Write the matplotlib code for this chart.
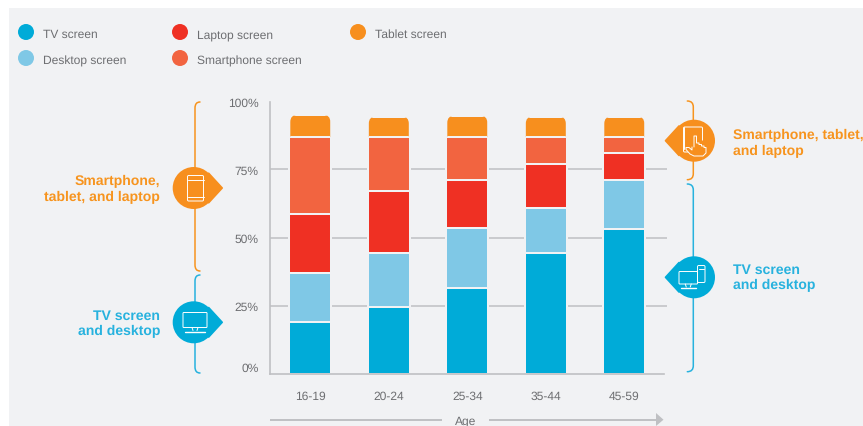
import numpy as np
import matplotlib
matplotlib.use("Agg")
import matplotlib.pyplot as plt
from matplotlib.patches import Circle, Polygon, PathPatch, FancyBboxPatch, Rectangle
from matplotlib.path import Path
from matplotlib.transforms import IdentityTransform

plt.rcParams['font.family'] = ['Liberation Sans', 'DejaVu Sans']
plt.rcParams['text.hinting'] = 'no_hinting'
plt.rcParams['text.hinting_factor'] = 1

age_groups = ['16-19', '20-24', '25-34', '35-44', '45-59']
tv_screen = [19.0, 24.3, 31.3, 44.3, 53.0]
desktop_screen = [17.8, 20.0, 22.2, 16.7, 18.1]
laptop_screen = [21.8, 22.7, 17.6, 15.9, 9.9]
smartphone_screen = [28.2, 19.8, 15.7, 9.9, 5.8]
tablet_screen = [8.2, 7.6, 7.9, 7.6, 7.6]
series_names = ['TV screen', 'Desktop screen', 'Laptop screen', 'Smartphone screen', 'Tablet screen']
y_ticks = [0, 25, 50, 75, 100]
y_tick_labels = ['0%', '25%', '50%', '75%', '100%']

C_TV = '#00abd8'
C_DESK = '#7fc8e6'
C_LAP = '#ef3023'
C_SMART = '#f26440'
C_TAB = '#f78f1e'
BG = '#f1f2f4'
GREY = '#bfc0c3'
TXT = '#6d6e71'
T_OR = '#f7941e'
T_BL = '#27b2de'

W, H = 863, 427
fig = plt.figure(figsize=(W / 100, H / 100), dpi=100, facecolor='white')

# Overlay in pixel coordinates for the panel and the annotations
ov = fig.add_axes([0, 0, 1, 1], zorder=1)
ov.set_xlim(0, W)
ov.set_ylim(H, 0)
ov.axis('off')
ov.add_patch(Rectangle((9, 9), W - 9, H - 9, fc=BG, ec='none'))

# Main chart
x_l, x_r, y_b, y_t = 269.5, 666.7, 374.5, 102.5
ax = fig.add_axes([x_l / W, 1 - y_b / H, (x_r - x_l) / W, (y_b - y_t) / H], zorder=2)
ax.patch.set_alpha(0)
sp = 78.5
ax.set_xlim((x_l - 310.3) / sp, (x_r - 310.3) / sp)
ax.set_ylim(0, 100)
ax.set_xticks(range(len(age_groups)), age_groups)
ax.set_yticks(y_ticks, y_tick_labels)
ax.tick_params(axis='both', length=0, labelsize=8.8, labelcolor=TXT)
ax.tick_params(axis='x', pad=12)
ax.tick_params(axis='y', pad=8)
ax.yaxis.get_ticklabels()[0].set_va('bottom')
ax.grid(axis='y', color=GREY, lw=1.1, zorder=0)
gl = ax.yaxis.get_gridlines()
gl[0].set_visible(False)
gl[-1].set_visible(False)
ax.set_axisbelow(True)
for s in ('top', 'right'):
    ax.spines[s].set_visible(False)
for s in ('left', 'bottom'):
    ax.spines[s].set_color(GREY)
    ax.spines[s].set_linewidth(1.2)
    ax.spines[s].set_zorder(6)
ax.spines['bottom'].set_bounds((x_l - 310.3) / sp, (664 - 310.3) / sp)

xs = np.arange(len(age_groups))
bottom = np.zeros(len(xs))
bw = 42 / sp
bars_tab = None
for vals, col in zip([tv_screen, desktop_screen, laptop_screen, smartphone_screen, tablet_screen],
                     [C_TV, C_DESK, C_LAP, C_SMART, C_TAB]):
    bars = ax.bar(xs, vals, bottom=bottom, width=bw, color=col, edgecolor=BG, linewidth=1.45, zorder=3)
    bottom = bottom + np.array(vals)
    bars_tab = bars
# Rounded tops on the tablet segment
fig.canvas.draw()
for b in bars_tab:
    (x0, y0), (x1, y1) = ax.transData.transform([(b.get_x(), b.get_y()), (b.get_x() + b.get_width(), b.get_y() + b.get_height())])
    clip = FancyBboxPatch((x0 + 1, y0 - 12), x1 - x0 - 2, y1 - y0 + 12 + 0.2,
                          boxstyle='round,pad=0,rounding_size=7', transform=IdentityTransform())
    b.set_clip_path(clip)

ax.set_xlabel('Age', fontsize=8.8, color=TXT)
ax.xaxis.set_label_coords((466 - x_l) / (x_r - x_l), -(421.5 - y_b) / (y_b - y_t), transform=ax.transAxes)
ax.xaxis.label.set_va('center')

# Age arrow
ov.plot([269.5, 441.5], [420.7, 420.7], color=GREY, lw=1.4, solid_capstyle='butt')
ov.plot([489, 658], [420.7, 420.7], color=GREY, lw=1.4, solid_capstyle='butt')
ov.add_patch(Polygon([(656, 414), (663.5, 420.7), (656, 427)], fc=GREY, ec='none'))

# Legend
for (cx, cy), col, name in zip([(26, 33), (26, 59), (180, 33), (180, 59), (358, 33)],
                               [C_TV, C_DESK, C_LAP, C_SMART, C_TAB], series_names):
    ov.add_patch(Circle((cx, cy), 8, fc=col, ec='none'))
    ov.text(cx + 17.2, cy + 2, name, fontsize=8.7, color=TXT, va='center', ha='left')


def bracket(x, y0, y1, d, col):
    verts = [(x + d, y0), (x, y0), (x, y0 + 6), (x, y1 - 6), (x, y1), (x + d, y1)]
    codes = [Path.MOVETO, Path.CURVE3, Path.CURVE3, Path.LINETO, Path.CURVE3, Path.CURVE3]
    ov.add_patch(PathPatch(Path(verts, codes), fc='none', ec=col, lw=1.1, capstyle='round'))


def teardrop(cx, cy, r, tip_dir, col):
    d = 29.5
    th = np.arccos(r / d)
    base = 0 if tip_dir > 0 else np.pi
    p1 = (cx + r * np.cos(base + th), cy + r * np.sin(base + th))
    p2 = (cx + r * np.cos(base - th), cy + r * np.sin(base - th))
    tip = (cx + tip_dir * (d - 1), cy)
    ov.add_patch(Polygon([p1, tip, p2], fc=col, ec=col, lw=1.2, joinstyle='round', zorder=3))
    ov.add_patch(Circle((cx, cy), r, fc=col, ec='none', zorder=3))


def rrect(x, y, w, h, r=1.2, fc='none', lw=0.7):
    ov.add_patch(FancyBboxPatch((x, y), w, h, boxstyle=f'round,pad=0,rounding_size={r}',
                                fc=fc, ec='white', lw=lw, zorder=4))


def wl(xs_, ys_, lw=0.7):
    ov.plot(xs_, ys_, color='white', lw=lw, zorder=5, solid_capstyle='round', solid_joinstyle='round')


def monitor(x, y, w, h):
    rrect(x, y, w, h, r=0.8)
    wl([x + w / 2 - 3, x + w / 2 - 2], [y + h, y + h + 3])
    wl([x + w / 2 + 3, x + w / 2 + 2], [y + h, y + h + 3])
    wl([x + 2, x + w - 2], [y + h + 4, y + h + 4], lw=1.0)


bracket(195, 103, 272, 5, T_OR)
bracket(195, 276, 374, 5, T_BL)
bracket(693.3, 102, 180.7, -6, T_OR)
bracket(693.3, 185, 372.7, -6, T_BL)

teardrop(193.7, 189, 21, 1, C_TAB)
teardrop(193.7, 323.3, 21, 1, C_TV)
teardrop(694, 141.7, 21, -1, C_TAB)
teardrop(694, 278.3, 21, -1, C_TV)

# Phone icon
rrect(187.5, 176.5, 16, 25.5)
wl([187.5, 203.5], [181, 181])
wl([187.5, 203.5], [197.5, 197.5])
# TV icon
monitor(183, 313.5, 24, 15)
# Tablet with hand icon
rrect(683.5, 128, 19, 25)
ov.add_patch(Polygon([(686, 150), (694, 137), (698, 137), (707, 146), (707, 158), (692, 158)],
                     fc=C_TAB, ec='none', zorder=4))
wl([694, 694, 696.5, 696.5, 699, 699, 701.5, 701.5, 704, 704, 706, 706, 703, 694, 690, 686, 686, 689, 692, 692],
   [148, 137, 137, 144, 144, 145.5, 145.5, 147, 147, 148.5, 148.5, 154, 157, 157, 155, 150.5, 148.5, 148.5, 151, 148])
wl([683.5, 683.5], [128, 150])
# Monitor + tower icon
monitor(679, 272.5, 18.5, 12.5)
rrect(697.5, 266.5, 7.5, 17)
wl([699, 703.5], [270, 270])

# Annotation labels
lab = dict(fontsize=10.2, fontweight='bold', linespacing=1.22)
ov.text(160, 189.5, 'Smartphone,\ntablet, and laptop', color=T_OR, ha='right', va='center', **lab)
ov.text(160, 323.5, 'TV screen\nand desktop', color=T_BL, ha='right', va='center', **lab)
ov.text(733, 143.5, 'Smartphone, tablet,\nand laptop', color=T_OR, ha='left', va='center', **lab)
ov.text(733, 277.5, 'TV screen\nand desktop', color=T_BL, ha='left', va='center', **lab)

fig.savefig('out.png', facecolor=fig.get_facecolor())
